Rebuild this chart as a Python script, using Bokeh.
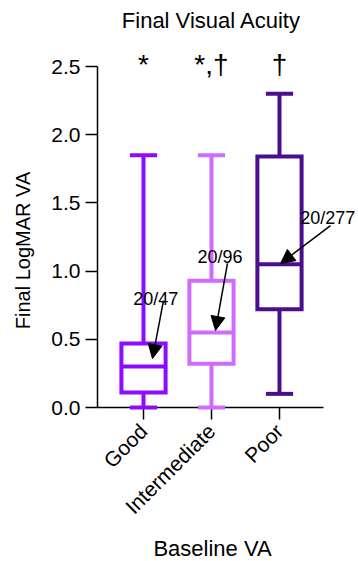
import math
from bokeh.plotting import figure
from bokeh.models import (ColumnDataSource, Range1d, FixedTicker, PrintfTickFormatter,
                          Label, Arrow, NormalHead)
from bokeh.embed import file_html
from bokeh.resources import INLINE

# ---- data ----
categories = ["Good", "Intermediate", "Poor"]
whisker_min = [0.0, 0.0, 0.10]
q1 = [0.11, 0.32, 0.72]
median = [0.30, 0.55, 1.05]
q3 = [0.47, 0.93, 1.84]
whisker_max = [1.85, 1.85, 2.30]
colors = ["#8C0CFF", "#CF6BFF", "#4A0E8E"]
median_labels = ["20/47", "20/96", "20/277"]
significance = ["*", "*,\u2020", "\u2020"]
y_ticks = [0.0, 0.5, 1.0, 1.5, 2.0, 2.5]

FONT = "Liberation Sans"
idx = list(range(len(categories)))
box_half = 0.325
cap_half = 0.2
x_axis_left, x_axis_right = -0.676, 2.647

src = ColumnDataSource(dict(
    x=idx, lo=whisker_min, q1=q1, med=median, q3=q3, hi=whisker_max, color=colors,
    box_l=[i - box_half for i in idx], box_r=[i + box_half for i in idx],
    cap_l=[i - cap_half for i in idx], cap_r=[i + cap_half for i in idx],
))

p = figure(width=358, height=561, output_backend="svg", toolbar_location=None,
           x_range=Range1d(-2.103, 3.162), y_range=Range1d(-1.129, 2.984), min_border=0)
p.outline_line_color = None
p.xgrid.visible = False
p.ygrid.visible = False
p.background_fill_color = "white"
p.border_fill_color = "white"

# whiskers
p.segment(x0="x", y0="q3", x1="x", y1="hi", source=src, line_color="color", line_width=4)
p.segment(x0="x", y0="q1", x1="x", y1="lo", source=src, line_color="color", line_width=4)
# caps
p.segment(x0="cap_l", y0="hi", x1="cap_r", y1="hi", source=src, line_color="color", line_width=4)
low_caps = p.segment(x0="cap_l", y0="lo", x1="cap_r", y1="lo", source=src,
                     line_color="color", line_width=4)
low_caps.level = "overlay"
# boxes
p.quad(left="box_l", right="box_r", top="q3", bottom="q1", source=src,
       fill_color="white", line_color="color", line_width=4, line_join="miter")
# medians
p.segment(x0="box_l", y0="med", x1="box_r", y1="med", source=src, line_color="color", line_width=4)

# axes
for ax in (p.xaxis[0], p.yaxis[0]):
    ax.axis_line_color = "black"
    ax.axis_line_width = 1.5
    ax.major_tick_line_color = "black"
    ax.major_tick_line_width = 1.5
    ax.major_tick_out = 12
    ax.major_tick_in = 0
    ax.minor_tick_line_color = None
    ax.major_label_text_font = FONT
    ax.major_label_text_color = "black"

p.yaxis.fixed_location = x_axis_left
p.yaxis.bounds = (y_ticks[0], y_ticks[-1])
p.yaxis.ticker = FixedTicker(ticks=y_ticks)
p.yaxis.formatter = PrintfTickFormatter(format="%.1f")
p.yaxis.major_label_text_font_size = "21px"
p.yaxis.major_label_standoff = 5

p.xaxis.fixed_location = 0
p.xaxis.bounds = (x_axis_left, x_axis_right)
p.xaxis.ticker = FixedTicker(ticks=idx)
p.xaxis.major_label_overrides = {i: c for i, c in zip(idx, categories)}
p.xaxis.major_label_orientation = math.pi / 4
p.xaxis.major_label_text_font_size = "21px"
p.xaxis.major_label_standoff = 8

# axis titles and chart title
p.add_layout(Label(x=-1.765, y=1.151, text="Final LogMAR VA", angle=math.pi / 2,
                   text_align="center", text_baseline="middle", text_font=FONT,
                   text_font_size="20px", text_color="black"))
p.add_layout(Label(x=1.015, y=-1.034, text="Baseline VA", text_align="center",
                   text_baseline="alphabetic", text_font=FONT, text_font_size="22px",
                   text_color="black"))
p.add_layout(Label(x=1.0, y=2.837, text="Final Visual Acuity", text_align="center",
                   text_baseline="alphabetic", text_font=FONT, text_font_size="22px",
                   text_color="black"))

# significance markers
for i, s in zip(idx, significance):
    p.add_layout(Label(x=i, y=2.515, text=s, text_align="center", text_baseline="alphabetic",
                       text_font=FONT, text_font_size="28px", text_color="black"))

# median annotations with arrows
label_offsets = [(0.18, 0.499), (0.125, 0.55), (0.71, 0.336)]
arrow_start = [(0.294, 0.484), (0.235, 0.506), (0.75, 0.284)]
arrow_end = [(0.132, 0.059), (0.059, 0.015), (0.015, 0.006)]
for i, m, t, lo, st, en in zip(idx, median, median_labels, label_offsets, arrow_start, arrow_end):
    p.add_layout(Label(x=i + lo[0], y=m + lo[1], text=t, text_align="center",
                       text_baseline="alphabetic", text_font=FONT, text_font_size="18px",
                       text_color="black"))
    p.add_layout(Arrow(x_start=i + st[0], y_start=m + st[1], x_end=i + en[0], y_end=m + en[1],
                       line_color="black", line_width=1.5,
                       end=NormalHead(size=14, fill_color="black", line_color="black")))

open("out.html", "w").write(file_html(p, INLINE))
